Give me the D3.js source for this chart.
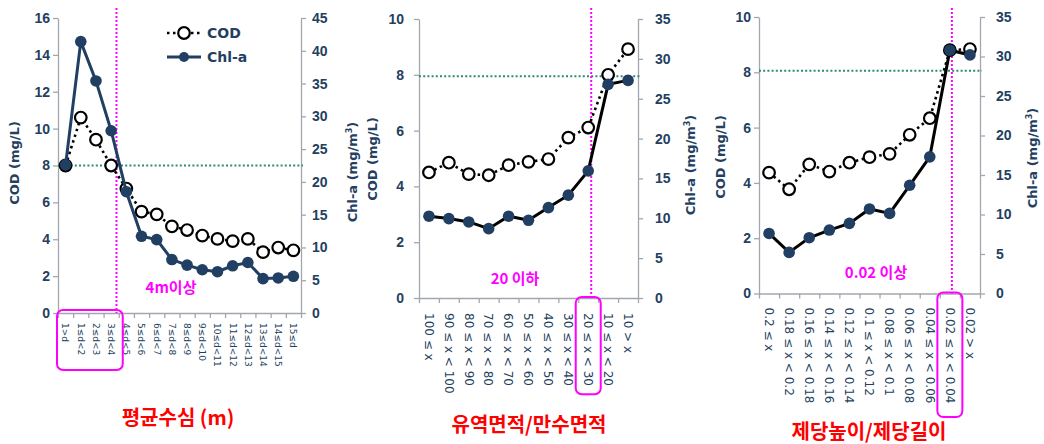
<!DOCTYPE html>
<meta charset="utf-8">
<title>COD / Chl-a</title>
<style>

body {
  margin: 0;
  background: #fff;
}

svg {
  display: block;
  font-family: "DejaVu Sans", sans-serif;
}

.axis path, .axis line {
  stroke: #a3a7ad;
  stroke-width: 1.3px;
  fill: none;
}

.axis text {
  fill: #243f60;
  font-size: 14px;
  font-weight: bold;
}

.cat {
  fill: #243f60;
}

.ytitle {
  fill: #243f60;
  font-size: 13px;
  font-weight: bold;
}

.xtitle {
  fill: #ff0000;
  font-family: "Noto Sans CJK KR", sans-serif;
  font-size: 20px;
  font-weight: bold;
}

.note {
  fill: #ff00ff;
  font-family: "Noto Sans CJK KR", sans-serif;
  font-size: 15px;
  font-weight: bold;
}

.cod {
  fill: none;
  stroke: #000;
  stroke-width: 2.6px;
  stroke-dasharray: 2.5,3.5;
}

.chl {
  fill: none;
  stroke-width: 3px;
}

</style>
<body>
<script src="https://cdn.jsdelivr.net/npm/d3@7"></script>
<script>

// 평균수심
var depthCats = ["1>d", "1≤d<2", "2≤d<3", "3≤d<4", "4≤d<5", "5≤d<6", "6≤d<7", "7≤d<8",
  "8≤d<9", "9≤d<10", "10≤d<11", "11≤d<12", "12≤d<13", "13≤d<14", "14≤d<15", "15≤d"];
var depthCOD = [8.0, 10.6, 9.4, 8.0, 6.75, 5.5, 5.35, 4.7, 4.5, 4.2, 4.02, 3.9, 4.02, 3.3, 3.55, 3.4];
var depthChl = [22.6, 41.4, 35.4, 27.8, 18.5, 11.7, 11.2, 8.15, 7.3, 6.6, 6.3, 7.2, 7.7, 5.25, 5.35, 5.6];

// 유역면적/만수면적
var areaCats = ["100 ≤ x", "90 ≤ x < 100", "80 ≤ x < 90", "70 ≤ x < 80", "60 ≤ x < 70",
  "50 ≤ x < 60", "40 ≤ x < 50", "30 ≤ x < 40", "20 ≤ x < 30", "10 ≤ x < 20", "10 > x"];
var areaCOD = [4.5, 4.85, 4.44, 4.4, 4.76, 4.88, 4.98, 5.75, 6.11, 8.0, 8.92];
var areaChl = [10.26, 9.96, 9.54, 8.7, 10.26, 9.75, 11.34, 12.9, 15.95, 26.8, 27.3];

// 제당높이/제당길이
var damCats = ["0.2 ≤ x", "0.18 ≤ x < 0.2", "0.16 ≤ x < 0.18", "0.14 ≤ x < 0.16", "0.12 ≤ x < 0.14",
  "0.1 ≤ x < 0.12", "0.08 ≤ x < 0.1", "0.06 ≤ x < 0.08", "0.04 ≤ x < 0.06", "0.02 ≤ x < 0.04", "0.02 > x"];
var damCOD = [4.37, 3.77, 4.67, 4.41, 4.73, 4.93, 5.05, 5.74, 6.34, 8.8, 8.84];
var damChl = [7.6, 5.2, 7.06, 8.03, 8.88, 10.7, 10.14, 13.7, 17.3, 30.8, 30.2];

var codTicks16 = [0, 2, 4, 6, 8, 10, 12, 14, 16],
    chlTicks45 = [0, 5, 10, 15, 20, 25, 30, 35, 40, 45],
    codTicks10 = [0, 2, 4, 6, 8, 10],
    chlTicks35 = [0, 5, 10, 15, 20, 25, 30, 35];

var svg = d3.select("body").append("svg")
    .attr("width", 1044)
    .attr("height", 444);

var panels = [
  {cats: depthCats, cod: depthCOD, chl: depthChl, codTicks: codTicks16, chlTicks: chlTicks45,
   x0: 58, x1: 301, top: 18, bottom: 313, padL: 3, padR: 6, chlColor: "#203f62",
   catFont: 9, catOff: 10, limit: 8, mark: 3, markSpan: 4, lineAt: 0.85,
   note: "4m이상", noteX: 171, noteY: 293, title: "평균수심 (m)", titleX: 178, titleY: 425},
  {cats: areaCats, cod: areaCOD, chl: areaChl, codTicks: codTicks10, chlTicks: chlTicks35,
   x0: 419, x1: 638, top: 19, bottom: 298, padL: 10, padR: 12, chlColor: "#000",
   catFont: 12, catOff: 15, limit: 7.95, mark: 8, markSpan: 1, lineAt: 0.65,
   note: "20 이하", noteX: 515, noteY: 284, title: "유역면적/만수면적", titleX: 529, titleY: 432},
  {cats: damCats, cod: damCOD, chl: damChl, codTicks: codTicks10, chlTicks: chlTicks35,
   x0: 759, x1: 980, top: 17, bottom: 293.5, padL: 3, padR: 11, chlColor: "#000",
   catFont: 12, catOff: 14, limit: 8.06, mark: 9, markSpan: 1, lineAt: 0.6,
   note: "0.02 이상", noteX: 876, noteY: 278, title: "제당높이/제당길이", titleX: 869, titleY: 439}
];

panels.forEach(drawPanel);

// y titles
yTitle(14, 163, ["COD (mg/L)"]);
yTitle(352, 172, ["Chl-a (mg/m", "3", ")"]);
yTitle(372, 159, ["COD (mg/L)"]);
yTitle(690, 165, ["Chl-a (mg/m", "3", ")"]);
yTitle(720, 157, ["COD (mg/L)"]);
yTitle(1032, 158, ["Chl-a (mg/m", "3", ")"]);

// legend
var leg = svg.append("g");
leg.append("line").attr("class", "cod")
    .attr("x1", 167).attr("x2", 201).attr("y1", 33).attr("y2", 33);
leg.append("circle").attr("cx", 184).attr("cy", 33).attr("r", 5.8)
    .attr("fill", "#fff").attr("stroke", "#000").attr("stroke-width", 2.2);
leg.append("line").attr("stroke", "#203f62").attr("stroke-width", 3)
    .attr("x1", 167).attr("x2", 201).attr("y1", 57).attr("y2", 57);
leg.append("circle").attr("cx", 184).attr("cy", 57).attr("r", 5)
    .attr("fill", "#203f62");
leg.selectAll("text")
    .data(["COD", "Chl-a"])
  .enter().append("text")
    .attr("x", 207)
    .attr("y", function(d, i) { return 33 + i * 24; })
    .attr("dy", "0.36em")
    .attr("fill", "#243f60")
    .style("font-size", "14px")
    .style("font-weight", "bold")
    .text(function(d) { return d; });

function drawPanel(p) {
  var g = svg.append("g");

  var x = d3.scaleBand().domain(p.cats).range([p.x0, p.x1]),
      bw = x.bandwidth(),
      cx = function(d, i) { return x(p.cats[i]) + bw / 2; };

  var yl = d3.scaleLinear().domain([0, d3.max(p.codTicks)]).range([p.bottom, p.top]),
      yr = d3.scaleLinear().domain([0, d3.max(p.chlTicks)]).range([p.bottom, p.top]);

  g.append("g").attr("class", "axis")
      .attr("transform", "translate(" + p.x0 + ",0)")
      .call(d3.axisLeft(yl).tickValues(p.codTicks).tickSize(5).tickPadding(p.padL).tickSizeOuter(0));

  g.append("g").attr("class", "axis")
      .attr("transform", "translate(" + p.x1 + ",0)")
      .call(d3.axisRight(yr).tickValues(p.chlTicks).tickSize(5).tickPadding(p.padR).tickSizeOuter(0));

  // bottom axis with ticks between categories
  var idx = d3.scaleLinear().domain([0, p.cats.length]).range([p.x0, p.x1]);
  g.append("g").attr("class", "axis")
      .attr("transform", "translate(0," + p.bottom + ")")
      .call(d3.axisBottom(idx).tickValues(d3.range(p.cats.length + 1)).tickSize(5).tickSizeOuter(0).tickFormat(""));

  g.selectAll(".cat")
      .data(p.cats)
    .enter().append("text")
      .attr("class", "cat")
      .attr("transform", function(d, i) {
        return "translate(" + cx(d, i) + "," + (p.bottom + p.catOff) + ")rotate(90)";
      })
      .attr("dy", "0.35em")
      .style("font-size", p.catFont + "px")
      .text(function(d) { return d; });

  // reference level
  g.append("line")
      .attr("x1", p.x0).attr("x2", p.x1 + 2)
      .attr("y1", yl(p.limit)).attr("y2", yl(p.limit))
      .attr("stroke", "#2e8a78")
      .attr("stroke-width", 2)
      .attr("stroke-dasharray", "2,2.2");

  // marked category
  var mx = x(p.cats[p.mark]);
  g.append("line")
      .attr("x1", mx + bw * p.lineAt).attr("x2", mx + bw * p.lineAt)
      .attr("y1", 8).attr("y2", p.bottom)
      .attr("stroke", "#ff00ff")
      .attr("stroke-width", 2)
      .attr("stroke-dasharray", "2,2");

  var rx0 = p.markSpan > 1 ? p.x0 - 1 : mx + bw / 2 - 12.5,
      rx1 = p.markSpan > 1 ? x(p.cats[p.mark]) + bw + 4 : mx + bw / 2 + 12.5;
  var longest = d3.max(p.cats.slice(p.mark - p.markSpan + 1, p.mark + 1), function(d) { return d.length; });
  g.append("rect")
      .attr("x", rx0).attr("y", p.bottom - 3 + (p.markSpan > 1 ? 0 : 2))
      .attr("width", rx1 - rx0)
      .attr("height", p.markSpan > 1 ? 60 : longest * p.catFont * 0.57 + 22)
      .attr("rx", 6)
      .attr("fill", "none")
      .attr("stroke", "#ff00ff")
      .attr("stroke-width", 2);

  g.append("text").attr("class", "note")
      .attr("x", p.noteX).attr("y", p.noteY)
      .attr("text-anchor", "middle")
      .text(p.note);

  g.append("text").attr("class", "xtitle")
      .attr("x", p.titleX).attr("y", p.titleY)
      .attr("text-anchor", "middle")
      .text(p.title);

  // COD
  g.append("path").attr("class", "cod")
      .datum(p.cod)
      .attr("d", d3.line().x(cx).y(function(d) { return yl(d); }));

  g.selectAll(".codpt")
      .data(p.cod)
    .enter().append("circle")
      .attr("cx", cx)
      .attr("cy", function(d) { return yl(d); })
      .attr("r", 5.8)
      .attr("fill", "#fff")
      .attr("stroke", "#000")
      .attr("stroke-width", 2.2);

  // Chl-a
  g.append("path").attr("class", "chl")
      .datum(p.chl)
      .attr("stroke", p.chlColor)
      .attr("d", d3.line().x(cx).y(function(d) { return yr(d); }));

  g.selectAll(".chlpt")
      .data(p.chl)
    .enter().append("circle")
      .attr("cx", cx)
      .attr("cy", function(d) { return yr(d); })
      .attr("r", 5.8)
      .attr("fill", "#203f62");
}

function yTitle(x, y, parts) {
  var t = svg.append("text")
      .attr("class", "ytitle")
      .attr("transform", "translate(" + x + "," + y + ")rotate(-90)")
      .attr("text-anchor", "middle")
      .attr("dy", "0.35em");
  t.append("tspan").text(parts[0]);
  if (parts.length > 1) {
    t.append("tspan").attr("dy", -5).style("font-size", "8px").text(parts[1]);
    t.append("tspan").attr("dy", 5).text(parts[2]);
  }
}

</script>
</body>
